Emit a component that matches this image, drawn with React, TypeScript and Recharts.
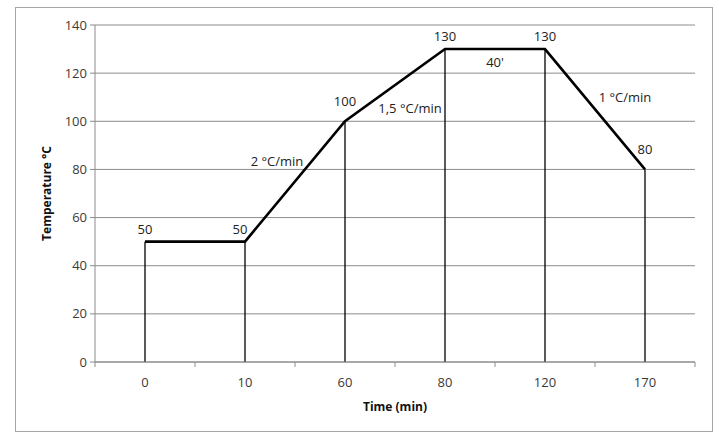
import { ComposedChart, Line, Bar, Scatter, XAxis, YAxis, CartesianGrid, LabelList } from "recharts";

// Cure cycle: categories are evenly spaced, like the original spreadsheet chart
const times = ["0", "10", "60", "80", "120", "170"];
const temperatures = [50, 50, 100, 130, 130, 80];
const yTicks = [0, 20, 40, 60, 80, 100, 120, 140];

// Segment notes, placed in data units (category index, °C)
const noteTexts = ["2 °C/min", "1,5 °C/min", "40'", "1 °C/min"];
const notePos = [1.32, 2.65, 3.5, 4.8];
const noteTemp = [83.3, 105.4, 124.3, 109.8];

// nudges for the point labels that sit next to a steep segment
const LABEL_RAISE = [0, 0, 7, 0, 0, 7];
const LABEL_SHIFT = [0, -5, 0, 0, 0, 0];

const FONT = "'Open Sans', 'DejaVu Sans', sans-serif";
const GRID = "#8c8c8c";
const TEXT = "#3a3a3a";

const data = times.map((t, i) => ({ idx: i, time: t, temp: temperatures[i] }));
const notes = noteTexts.map((text, i) => ({ idx: notePos[i], temp: noteTemp[i], text }));

// labels on the category centres, tick marks on the category boundaries
const xTicks = times.flatMap((_, i) => [i - 0.5, i]).concat(times.length - 0.5);

function TimeTick(props: any) {
  const { x, y, payload } = props;
  const v = payload.value;
  if (!Number.isInteger(v)) {
    return <line x1={x} x2={x} y1={y} y2={y + 5} stroke={GRID} />;
  }
  return (
    <text x={x} y={y} dy={25} textAnchor="middle" fill={TEXT} fontSize={13} fontFamily={FONT}>
      {times[v]}
    </text>
  );
}

function DropLine(props: any) {
  const { x, y, width, height } = props;
  const cx = x + width / 2;
  return <line x1={cx} x2={cx} y1={y} y2={y + height} stroke="#000" strokeWidth={1.3} />;
}

function NoteText(props: any) {
  const { cx, cy, payload } = props;
  return (
    <text x={cx} y={cy} dy={4.5} textAnchor="middle" fill="#222" fontSize={13} fontFamily={FONT}>
      {payload.text}
    </text>
  );
}

function PointLabel(props: any) {
  const x = props.x ?? props.viewBox?.x;
  const y = props.y ?? props.viewBox?.y;
  const raise = LABEL_RAISE[props.index] ?? 0;
  const shift = LABEL_SHIFT[props.index] ?? 0;
  return (
    <text x={x + shift} y={y - 8 - raise} textAnchor="middle" fill="#222" fontSize={13} fontFamily={FONT}>
      {props.value}
    </text>
  );
}

export default function App() {
  return (
    <div style={{ position: "absolute", left: 0, top: 0, width: 719, height: 432, background: "#fff" }}>
      <div
        style={{
          position: "absolute",
          left: 15,
          top: 7,
          width: 696,
          height: 423,
          border: "1px solid #a6a6a6",
        }}
      />
      <div style={{ position: "absolute", left: 0, top: 0 }}>
        <ComposedChart width={719} height={432} data={data} margin={{ top: 25, right: 24, bottom: 10, left: 15 }}>
          <CartesianGrid vertical={false} stroke={GRID} />
          <XAxis
            dataKey="idx"
            type="number"
            domain={[-0.5, times.length - 0.5]}
            ticks={xTicks}
            interval={0}
            tickLine={false}
            tickSize={0}
            tickMargin={0}
            tick={<TimeTick />}
            axisLine={{ stroke: GRID }}
            height={60}
            label={{
              value: "Time (min)",
              position: "center",
              dy: 15,
              fill: "#111",
              fontSize: 12,
              fontWeight: 700,
              fontFamily: FONT,
            }}
          />
          <YAxis
            domain={[0, 140]}
            ticks={yTicks}
            interval={0}
            width={80}
            axisLine={{ stroke: GRID }}
            tickLine={{ stroke: GRID }}
            tickSize={5}
            tickMargin={3}
            tick={{ fill: TEXT, fontSize: 13, fontFamily: FONT }}
            label={{
              value: "Temperature °C",
              angle: -90,
              position: "center",
              dx: -8,
              fill: "#111",
              fontSize: 12,
              fontWeight: 700,
              fontFamily: FONT,
            }}
          />
          <Bar dataKey="temp" barSize={2} shape={<DropLine />} isAnimationActive={false} />
          <Line
            dataKey="temp"
            type="linear"
            stroke="#000"
            strokeWidth={2.6}
            dot={false}
            activeDot={false}
            isAnimationActive={false}
          >
            <LabelList dataKey="temp" content={<PointLabel />} />
          </Line>
          <Scatter data={notes} dataKey="temp" shape={<NoteText />} isAnimationActive={false} />
        </ComposedChart>
      </div>
    </div>
  );
}
